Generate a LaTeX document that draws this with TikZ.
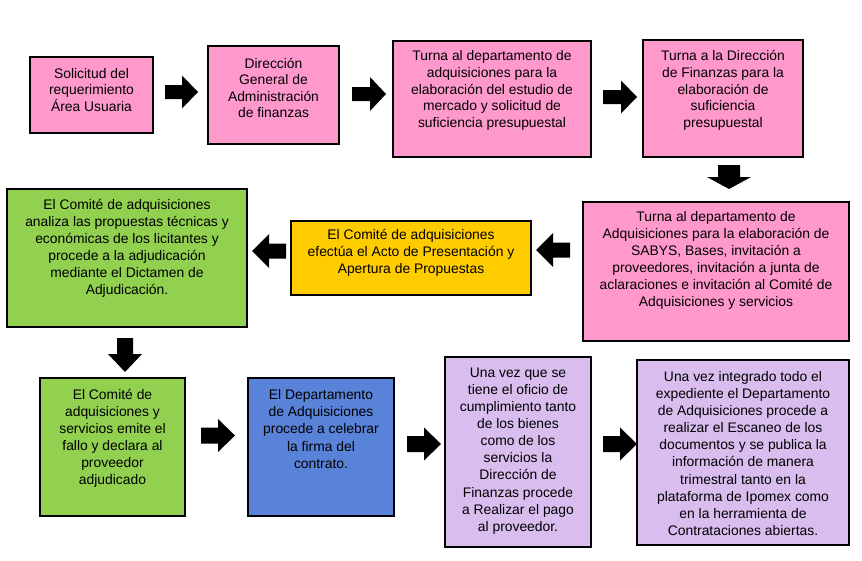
\documentclass[tikz,border=0pt]{standalone}
\usepackage{fontspec}
\setmainfont{Liberation Sans}
\definecolor{pinkc}{HTML}{FF99CC}
\definecolor{yellowc}{HTML}{FFCC00}
\definecolor{greenc}{HTML}{92D050}
\definecolor{bluec}{HTML}{5983D9}
\definecolor{lavc}{HTML}{D9BDEE}
\tikzset{
  box/.style={draw=black,line width=0.8pt,inner sep=0pt,outer sep=0pt,rectangle},
  txt/.style={align=center,inner sep=0pt,font=\fontsize{10.4}{12.8}\selectfont},
  txtA/.style={align=center,inner sep=0pt,font=\fontsize{10.4}{12.45}\selectfont},
  blk/.style={fill=black}
}
% box: name, colour, x1, y1, x2, y2 (pixels)
\newcommand\bx[6]{\node[box,fill=#2,minimum width={(#5-#3)*0.75pt},minimum height={(#6-#4)*0.75pt},anchor=north west] (#1) at (#3,#4) {};}
% block arrow: cx, cy, rotation, length, head width, shaft width, head length
\newcommand\barrow[7]{\fill[blk,shift={(#1,#2)},rotate=#3]
  ({-#4/2},{-#6/2}) -- ({#4/2-#7},{-#6/2}) -- ({#4/2-#7},{-#5/2}) -- ({#4/2},0)
  -- ({#4/2-#7},{#5/2}) -- ({#4/2-#7},{#6/2}) -- ({-#4/2},{#6/2}) -- cycle;}
\begin{document}
\begin{tikzpicture}[x=0.75pt,y=-0.75pt]
\useasboundingbox (0,0) rectangle (862,560);
% boxes
\bx{b1}{pinkc}{30}{57}{153}{133}
\bx{b2}{pinkc}{208}{46}{339}{144}
\bx{b3}{pinkc}{393}{41}{591}{157}
\bx{b4}{pinkc}{643}{40}{803}{157}
\bx{b5}{pinkc}{583}{202}{849}{341}
\bx{b6}{yellowc}{291}{221}{531}{295}
\bx{b7}{greenc}{7}{189}{247}{327}
\bx{b8}{greenc}{40}{378}{185}{516}
\bx{b9}{bluec}{248}{378}{394}{516}
\bx{b10}{lavc}{445}{357}{591}{547}
\bx{b11}{lavc}{637}{360}{849}{545}
% texts
\node[txtA] (t1) at (91.5,90) {Solicitud del\\requerimiento\\Área Usuaria};
\node[txtA] (t2) at (273.5,88) {Dirección\\General de\\Administración\\de finanzas};
\node[txtA] (t3) at (492,90.5) {Turna al departamento de\\adquisiciones para la\\elaboración del estudio de\\mercado y solicitud de\\suficiencia presupuestal};
\node[txtA] (t4) at (723,90.5) {Turna a la Dirección\\de Finanzas para la\\elaboración de\\suficiencia\\presupuestal};
\node[txt] (t5) at (716,260.5) {Turna al departamento de\\Adquisiciones para la elaboración de\\SABYS, Bases, invitación a\\proveedores, invitación a junta de\\aclaraciones e invitación al Comité de\\Adquisiciones y servicios};
\node[txt] (t6) at (411,252.5) {El Comité de adquisiciones\\efectúa el Acto de Presentación y\\Apertura de Propuestas};
\node[txt] (t7) at (127,248.5) {El Comité de adquisiciones\\analiza las propuestas técnicas y\\económicas de los licitantes y\\procede a la adjudicación\\mediante el Dictamen de\\Adjudicación.};
\node[txt] (t8) at (112.5,438) {El Comité de\\adquisiciones y\\servicios emite el\\fallo y declara al\\proveedor\\adjudicado};
\node[txt] (t9) at (321,429) {El Departamento\\de Adquisiciones\\procede a celebrar\\la firma del\\contrato.};
\node[txt] (t10) at (518,451) {Una vez que se\\tiene el oficio de\\cumplimiento tanto\\de los bienes\\como de los\\servicios la\\Dirección de\\Finanzas procede\\a Realizar el pago\\al proveedor.};
\node[txt] (t11) at (743,453.5) {Una vez integrado todo el\\expediente el Departamento\\de Adquisiciones procede a\\realizar el Escaneo de los\\documentos y se publica la\\información de manera\\trimestral tanto en la\\plataforma de Ipomex como\\en la herramienta de\\Contrataciones abiertas.};
% block arrows
\barrow{181.5}{92}{0}{33}{33}{14}{16}
\barrow{369}{94}{0}{34}{34}{14}{16}
\barrow{620}{97}{0}{34}{33}{14}{16}
\barrow{729}{177}{-90}{24}{44}{22}{12}
\barrow{553}{250}{180}{34}{34}{15}{17}
\barrow{269}{251}{180}{34}{34}{15}{17}
\barrow{125}{355}{-90}{34}{34}{16}{18}
\barrow{218}{435.5}{0}{34}{33}{16}{17}
\barrow{424}{444}{0}{34}{33}{16}{17}
\barrow{620}{444}{0}{34}{33}{16}{17}
\end{tikzpicture}
\end{document}
